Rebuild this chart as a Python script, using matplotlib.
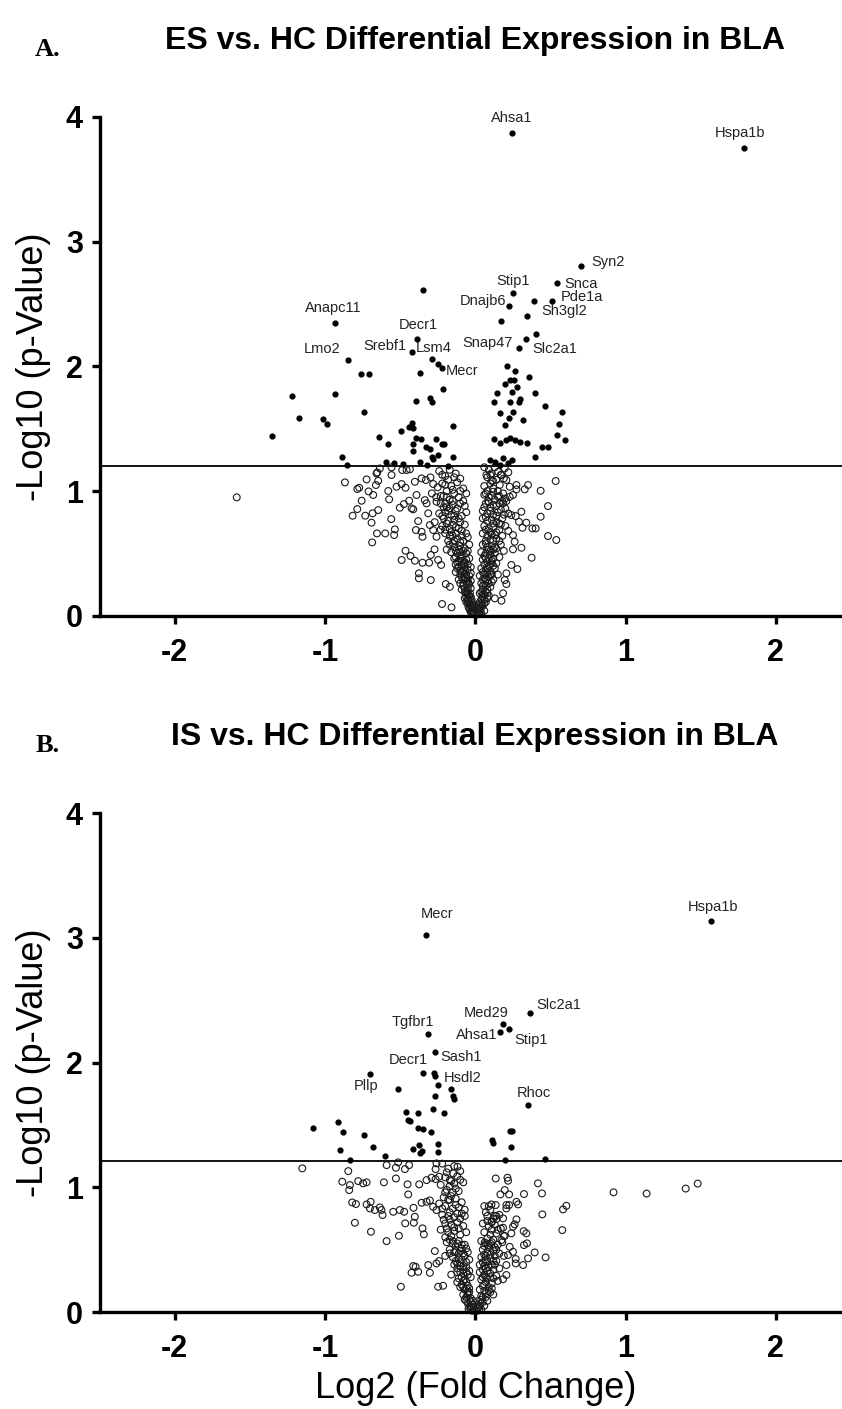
import numpy as np
import matplotlib
matplotlib.use('Agg')
import matplotlib.pyplot as plt

plt.rcParams['font.family'] = ['Liberation Sans', 'DejaVu Sans']

# ---------------- panel A : ES vs HC ----------------
a_lab_names = ['Ahsa1', 'Hspa1b', 'Syn2', 'Snca', 'Pde1a', 'Stip1', 'Dnajb6', 'Sh3gl2',
               'Anapc11', 'Lmo2', 'Decr1', 'Srebf1', 'Lsm4', 'Mecr', 'Snap47', 'Slc2a1']
a_lab_x = [0.243, 1.79, 0.705, 0.545, 0.510, 0.251, 0.223, 0.391,
           -0.934, -0.845, -0.390, -0.419, -0.287, -0.222, 0.289, 0.340]
a_lab_y = [3.87, 3.75, 2.80, 2.67, 2.525, 2.585, 2.48, 2.52,
           2.344, 2.05, 2.22, 2.114, 2.056, 1.985, 2.15, 2.215]

a_sig = [(0.343, 2.40), (0.168, 2.36), (-0.347, 2.61), (0.402, 2.258), (-0.245, 2.02),
         (-0.763, 1.935), (-0.708, 1.935), (-0.369, 1.943), (-1.221, 1.764), (-0.934, 1.777),
         (-0.214, 1.817), (-0.397, 1.723), (-0.302, 1.743), (-0.291, 1.715), (-0.743, 1.633),
         (-1.173, 1.582), (-1.015, 1.577), (-0.989, 1.534), (-1.354, 1.443), (-0.424, 1.547),
         (-0.442, 1.51), (-0.411, 1.507), (-0.495, 1.483), (-0.147, 1.521), (-0.639, 1.435),
         (-0.583, 1.374), (-0.395, 1.422), (-0.364, 1.414), (-0.413, 1.376), (-0.258, 1.414),
         (-0.223, 1.376), (-0.207, 1.374), (-0.413, 1.32), (-0.329, 1.35), (-0.298, 1.339),
         (-0.291, 1.275), (-0.280, 1.254), (-0.247, 1.286), (-0.147, 1.275), (-0.885, 1.272),
         (-0.852, 1.208), (-0.597, 1.234), (-0.541, 1.226), (-0.48, 1.214), (-0.369, 1.23),
         (-0.324, 1.208), (-0.181, 1.2),
         (0.214, 2.0), (0.267, 1.964), (0.357, 1.916), (0.229, 1.889), (0.258, 1.889),
         (0.201, 1.857), (0.280, 1.836), (0.145, 1.783), (0.245, 1.791), (0.397, 1.783),
         (0.296, 1.735), (0.289, 1.715), (0.123, 1.711), (0.229, 1.711), (0.466, 1.681),
         (0.163, 1.622), (0.251, 1.635), (0.575, 1.635), (0.225, 1.587), (0.318, 1.569),
         (0.559, 1.537), (0.201, 1.526), (0.544, 1.449), (0.595, 1.409), (0.123, 1.419),
         (0.163, 1.387), (0.207, 1.408), (0.229, 1.427), (0.262, 1.408), (0.296, 1.392),
         (0.347, 1.382), (0.444, 1.355), (0.484, 1.355), (0.395, 1.275), (0.096, 1.248),
         (0.13, 1.232), (0.183, 1.264), (0.216, 1.224), (0.243, 1.248), (0.163, 1.205)]

a_ns = [(-1.587, 0.949),
        (-0.867, 1.069), (-0.785, 1.016), (-0.772, 1.026), (-0.723, 1.093), (-0.71, 0.997),
        (-0.679, 0.968), (-0.657, 1.141), (-0.646, 1.082), (-0.661, 1.048), (-0.756, 0.922),
        (-0.785, 0.855), (-0.816, 0.802), (-0.732, 0.802), (-0.683, 0.821), (-0.646, 0.847),
        (-0.69, 0.746), (-0.654, 0.66), (-0.599, 0.66), (-0.686, 0.588), (-0.579, 1.0),
        (-0.573, 0.933), (-0.559, 0.775), (-0.535, 0.692), (-0.54, 0.647), (-0.524, 1.034),
        (-0.49, 1.056), (-0.464, 1.026), (-0.502, 0.866), (-0.475, 0.895), (-0.424, 0.861),
        (-0.44, 0.922), (-0.413, 0.853), (-0.391, 0.968), (-0.402, 1.074), (-0.357, 1.101),
        (-0.486, 1.168), (-0.457, 1.168), (-0.435, 1.174), (-0.635, 1.181), (-0.652, 1.149),
        (-0.557, 1.128), (-0.557, 1.19), (-0.38, 0.759), (-0.395, 0.687), (-0.357, 0.673),
        (-0.351, 0.633), (-0.464, 0.521), (-0.431, 0.479), (-0.402, 0.441), (-0.49, 0.447),
        (-0.375, 0.34), (-0.375, 0.3), (-0.296, 0.286), (-0.351, 0.425), (-0.307, 0.425),
        (-0.336, 0.927), (-0.324, 0.901), (-0.313, 0.821), (-0.329, 1.088), (-0.298, 1.109),
        (-0.28, 1.056), (-0.289, 0.981), (-0.258, 0.914), (-0.302, 0.727), (-0.28, 0.687),
        (-0.258, 0.633), (-0.271, 0.532), (-0.296, 0.487), (-0.247, 0.447), (-0.227, 0.407),
        (-0.221, 0.094), (-0.158, 0.067), (-0.196, 0.254), (-0.169, 0.232),
        (0.074, 1.128), (0.108, 1.141), (0.152, 1.154), (0.196, 1.181), (0.174, 1.128),
        (0.118, 1.082), (0.163, 1.048), (0.207, 1.088), (0.229, 1.034), (0.274, 1.048),
        (0.274, 1.013), (0.329, 1.013), (0.351, 1.048), (0.435, 1.002), (0.535, 1.08),
        (0.118, 0.994), (0.152, 0.954), (0.185, 0.981), (0.229, 0.954), (0.251, 0.968),
        (0.085, 0.919), (0.185, 0.901), (0.207, 0.919), (0.307, 0.834), (0.24, 0.807),
        (0.269, 0.799), (0.34, 0.746), (0.291, 0.753), (0.435, 0.794), (0.484, 0.879),
        (0.314, 0.705), (0.38, 0.7), (0.402, 0.7), (0.484, 0.639), (0.539, 0.607),
        (0.251, 0.647), (0.262, 0.593), (0.251, 0.532), (0.307, 0.545), (0.375, 0.465),
        (0.24, 0.407), (0.28, 0.374), (0.207, 0.34), (0.207, 0.254), (0.196, 0.286),
        (0.185, 0.18), (0.174, 0.12), (0.13, 0.139),
        # left arm of the V
        (-0.24, 1.16), (-0.2, 1.12), (-0.17, 1.17), (-0.13, 1.14), (-0.1, 1.1), (-0.22, 1.06),
        (-0.16, 1.04), (-0.12, 1.07), (-0.08, 1.02), (-0.19, 1.0), (-0.25, 1.03), (-0.14, 0.98),
        (-0.21, 0.96), (-0.17, 0.93), (-0.11, 0.95), (-0.08, 0.92), (-0.23, 0.9), (-0.19, 0.87),
        (-0.15, 0.89), (-0.12, 0.86), (-0.07, 0.88), (-0.2, 0.83), (-0.16, 0.81), (-0.13, 0.84),
        (-0.09, 0.8), (-0.24, 0.82), (-0.06, 0.83),
        (-0.21, 0.78), (-0.18, 0.76), (-0.14, 0.77), (-0.1, 0.75), (-0.07, 0.73), (-0.22, 0.72),
        (-0.17, 0.7), (-0.13, 0.71), (-0.09, 0.68), (-0.06, 0.66), (-0.2, 0.66), (-0.15, 0.64),
        (-0.12, 0.62), (-0.08, 0.6), (-0.18, 0.6), (-0.05, 0.63), (-0.23, 0.69),
        (-0.17, 0.57), (-0.14, 0.55), (-0.1, 0.56), (-0.07, 0.54), (-0.04, 0.57), (-0.16, 0.51),
        (-0.12, 0.5), (-0.09, 0.48), (-0.06, 0.5), (-0.14, 0.46), (-0.11, 0.44), (-0.07, 0.43),
        (-0.04, 0.46), (-0.13, 0.41), (-0.19, 0.53), (-0.09, 0.4),
        (-0.12, 0.38), (-0.08, 0.36), (-0.05, 0.37), (-0.1, 0.33), (-0.07, 0.31), (-0.04, 0.32),
        (-0.11, 0.29), (-0.06, 0.27), (-0.03, 0.28), (-0.08, 0.24), (-0.05, 0.22), (-0.09, 0.21),
        (-0.13, 0.35),
        (-0.06, 0.18), (-0.04, 0.16), (-0.07, 0.14), (-0.03, 0.12), (-0.05, 0.1), (-0.02, 0.08),
        (-0.04, 0.06), (-0.015, 0.04), (-0.03, 0.03), (-0.01, 0.015), (-0.02, 0.1), (-0.05, 0.13),
        (-0.15, 0.58), (-0.11, 0.53), (-0.08, 0.52), (-0.05, 0.52), (-0.13, 0.47), (-0.1, 0.46),
        (-0.06, 0.45), (-0.08, 0.42), (-0.05, 0.41), (-0.11, 0.39), (-0.07, 0.39), (-0.03, 0.39),
        (-0.09, 0.35), (-0.06, 0.33), (-0.03, 0.34), (-0.08, 0.29), (-0.05, 0.28), (-0.1, 0.26),
        (-0.04, 0.25), (-0.07, 0.22), (-0.03, 0.22), (-0.06, 0.2), (-0.05, 0.17), (-0.03, 0.15),
        (-0.06, 0.11), (-0.04, 0.09), (-0.025, 0.07), (-0.035, 0.045), (-0.02, 0.02), (-0.008, 0.03),
        (-0.19, 0.95), (-0.15, 0.92), (-0.1, 0.9), (-0.17, 0.86), (-0.14, 0.8), (-0.11, 0.78),
        (-0.19, 0.74), (-0.15, 0.73), (-0.11, 0.7), (-0.16, 0.67), (-0.13, 0.66), (-0.09, 0.64),
        (-0.14, 0.6), (-0.1, 0.59), (-0.27, 0.75), (-0.26, 0.95), (-0.18, 1.09), (-0.1, 1.0),
        (-0.06, 0.98), (-0.2, 0.9),
        (-0.13, 0.52), (-0.1, 0.51), (-0.12, 0.43), (-0.09, 0.44), (-0.1, 0.36), (-0.07, 0.34),
        (-0.09, 0.31), (-0.06, 0.3), (-0.08, 0.26), (-0.045, 0.26), (-0.07, 0.19), (-0.05, 0.19),
        (-0.035, 0.18), (-0.06, 0.15), (-0.045, 0.12), (-0.025, 0.13), (-0.03, 0.09),
        (-0.015, 0.06), (-0.045, 0.07), (-0.02, 0.035), (-0.17, 0.64), (-0.2, 0.69),
        (-0.22, 0.8), (-0.18, 0.84), (-0.21, 0.87), (-0.23, 0.96), (-0.15, 1.01), (-0.2, 1.05),
        (-0.14, 1.11), (-0.22, 1.13),
        # right arm of the V
        (0.06, 1.19), (0.09, 1.17), (0.13, 1.19), (0.08, 1.11), (0.1, 1.06), (0.14, 1.09),
        (0.06, 1.04), (0.19, 1.1), (0.22, 1.15), (0.12, 1.02),
        (0.06, 0.97), (0.09, 0.95), (0.13, 0.93), (0.16, 0.96), (0.2, 0.94), (0.07, 0.9),
        (0.1, 0.87), (0.14, 0.88), (0.17, 0.85), (0.05, 0.84), (0.08, 0.82), (0.12, 0.81),
        (0.15, 0.83), (0.2, 0.86), (0.22, 0.82),
        (0.05, 0.78), (0.08, 0.76), (0.11, 0.77), (0.14, 0.75), (0.18, 0.78), (0.06, 0.72),
        (0.09, 0.7), (0.12, 0.71), (0.16, 0.69), (0.2, 0.72), (0.05, 0.66), (0.08, 0.64),
        (0.11, 0.65), (0.14, 0.62), (0.18, 0.64), (0.07, 0.6), (0.1, 0.61), (0.22, 0.68),
        (0.05, 0.57), (0.08, 0.55), (0.11, 0.56), (0.14, 0.54), (0.17, 0.57), (0.04, 0.51),
        (0.07, 0.5), (0.1, 0.49), (0.13, 0.5), (0.16, 0.47), (0.05, 0.45), (0.08, 0.43),
        (0.11, 0.44), (0.14, 0.42), (0.19, 0.52),
        (0.04, 0.38), (0.07, 0.37), (0.1, 0.36), (0.13, 0.38), (0.03, 0.32), (0.06, 0.3),
        (0.09, 0.31), (0.12, 0.29), (0.15, 0.33), (0.04, 0.26), (0.07, 0.24), (0.1, 0.23),
        (0.05, 0.21),
        (0.03, 0.18), (0.06, 0.17), (0.09, 0.16), (0.04, 0.13), (0.07, 0.11), (0.02, 0.09),
        (0.05, 0.08), (0.03, 0.05), (0.015, 0.03), (0.04, 0.02), (0.01, 0.01), (0.08, 0.14),
        (0.07, 0.58), (0.09, 0.53), (0.12, 0.53), (0.06, 0.48), (0.09, 0.46), (0.12, 0.46),
        (0.06, 0.41), (0.09, 0.4), (0.12, 0.4), (0.05, 0.35), (0.08, 0.34), (0.11, 0.33),
        (0.05, 0.29), (0.08, 0.28), (0.11, 0.27), (0.06, 0.25), (0.08, 0.21), (0.04, 0.19),
        (0.07, 0.19), (0.05, 0.15), (0.03, 0.11), (0.06, 0.1), (0.02, 0.06), (0.04, 0.07),
        (0.025, 0.02), (0.06, 0.04),
        (0.07, 0.98), (0.11, 0.96), (0.09, 0.91), (0.12, 0.89), (0.16, 0.9), (0.06, 0.87),
        (0.1, 0.84), (0.14, 0.8), (0.07, 0.79), (0.12, 0.74), (0.16, 0.74), (0.07, 0.69),
        (0.1, 0.67), (0.14, 0.67), (0.12, 0.6), (0.16, 0.6), (0.15, 1.0), (0.1, 1.13),
        (0.1, 0.52), (0.13, 0.55), (0.07, 0.46), (0.11, 0.42), (0.08, 0.38), (0.06, 0.33),
        (0.1, 0.33), (0.07, 0.29), (0.09, 0.26), (0.05, 0.24), (0.08, 0.18), (0.05, 0.17),
        (0.06, 0.13), (0.04, 0.1), (0.025, 0.075), (0.035, 0.035), (0.015, 0.05), (0.13, 0.65),
        (0.17, 0.73), (0.19, 0.81), (0.18, 0.92), (0.11, 1.08), (0.17, 1.13), (0.08, 1.0)]

a_cut = 1.2

# ---------------- panel B : IS vs HC ----------------
b_lab_names = ['Mecr', 'Hspa1b', 'Slc2a1', 'Med29', 'Tgfbr1', 'Ahsa1', 'Stip1',
               'Sash1', 'Decr1', 'Hsdl2', 'Pllp', 'Rhoc']
b_lab_x = [-0.331, 1.571, 0.367, 0.185, -0.316, 0.163, 0.223,
           -0.269, -0.347, -0.265, -0.701, 0.351]
b_lab_y = [3.022, 3.134, 2.394, 2.306, 2.228, 2.245, 2.269,
           2.082, 1.913, 1.891, 1.905, 1.659]

b_sig = [(-0.274, 1.913), (-0.251, 1.819), (-0.517, 1.788), (-0.269, 1.734), (-0.163, 1.788),
         (-0.147, 1.732), (-0.141, 1.705), (-0.462, 1.606), (-0.382, 1.592), (-0.284, 1.625),
         (-0.207, 1.592), (-0.446, 1.539), (-0.435, 1.531), (-0.916, 1.525), (-1.078, 1.472),
         (-0.878, 1.44), (-0.741, 1.418), (-0.38, 1.472), (-0.351, 1.464), (-0.296, 1.445),
         (0.229, 1.451), (0.245, 1.451), (0.108, 1.376), (0.118, 1.358), (-0.9, 1.299),
         (-0.683, 1.325), (-0.373, 1.339), (-0.251, 1.344), (-0.247, 1.285), (-0.413, 1.31),
         (-0.369, 1.277), (-0.357, 1.29), (0.236, 1.325), (-0.599, 1.248), (-0.834, 1.222),
         (0.196, 1.222), (0.462, 1.23)]

b_ns = [(-1.151, 1.152), (-0.845, 1.13), (-0.885, 1.045), (-0.834, 1.018), (-0.839, 0.978),
        (-0.779, 1.05), (-0.746, 1.032), (-0.723, 1.04), (-0.608, 1.04), (-0.59, 1.178),
        (-0.528, 1.157), (-0.468, 1.146), (-0.44, 1.178), (-0.513, 1.2), (-0.528, 1.071),
        (-0.451, 1.024), (-0.446, 0.943), (-0.819, 0.879), (-0.794, 0.866), (-0.723, 0.863),
        (-0.696, 0.884), (-0.701, 0.831), (-0.668, 0.818), (-0.635, 0.839), (-0.624, 0.818),
        (-0.617, 0.778), (-0.801, 0.716), (-0.694, 0.644), (-0.59, 0.569), (-0.546, 0.804),
        (-0.502, 0.818), (-0.473, 0.804), (-0.466, 0.711), (-0.409, 0.716), (-0.402, 0.764),
        (-0.411, 0.836), (-0.508, 0.612), (-0.495, 0.203), (-0.351, 0.671), (-0.342, 0.623),
        (-0.373, 1.024), (-0.324, 1.058), (-0.291, 1.077), (-0.264, 1.066), (-0.24, 1.085),
        (-0.357, 0.876), (-0.324, 0.884), (-0.302, 0.895), (-0.28, 0.844), (-0.258, 0.818),
        (-0.413, 0.369), (-0.397, 0.363), (-0.424, 0.315), (-0.38, 0.323), (-0.313, 0.377),
        (-0.302, 0.315), (-0.269, 0.489), (-0.258, 0.39), (-0.24, 0.409), (-0.247, 0.203),
        (-0.214, 0.211), (-0.264, 1.146), (-0.258, 1.192), (-0.147, 1.112), (-0.118, 1.165),
        (-0.169, 1.058),
        (0.136, 1.071), (0.214, 1.077), (0.218, 1.053), (0.417, 1.032), (0.444, 0.951),
        (0.324, 0.946), (0.167, 0.943), (0.196, 0.978), (0.225, 0.943), (0.108, 0.863),
        (0.136, 0.858), (0.207, 0.858), (0.225, 0.858), (0.207, 0.831), (0.274, 0.884),
        (0.285, 0.863), (0.446, 0.783), (0.584, 0.823), (0.606, 0.852), (0.579, 0.657),
        (0.13, 0.772), (0.141, 0.746), (0.185, 0.751), (0.108, 0.724), (0.185, 0.676),
        (0.274, 0.743), (0.262, 0.703), (0.251, 0.684), (0.322, 0.649), (0.34, 0.631),
        (0.24, 0.631), (0.196, 0.61), (0.174, 0.577), (0.324, 0.537), (0.344, 0.551),
        (0.229, 0.523), (0.251, 0.483), (0.218, 0.457), (0.395, 0.478), (0.468, 0.438),
        (0.351, 0.43), (0.318, 0.377), (0.269, 0.425), (0.269, 0.39), (0.207, 0.377),
        (0.207, 0.297), (0.185, 0.263), (0.063, 0.559), (0.085, 0.537),
        (0.92, 0.96), (1.14, 0.95), (1.40, 0.99), (1.48, 1.03),
        # left arm of the V
        (-0.22, 1.19), (-0.18, 1.15), (-0.14, 1.17), (-0.1, 1.13), (-0.2, 1.08), (-0.16, 1.05),
        (-0.12, 1.09), (-0.08, 1.04), (-0.23, 1.02),
        (-0.19, 0.98), (-0.15, 0.96), (-0.11, 0.97), (-0.21, 0.92), (-0.17, 0.9), (-0.13, 0.91),
        (-0.09, 0.88), (-0.2, 0.85), (-0.15, 0.83), (-0.11, 0.84), (-0.07, 0.82), (-0.24, 0.87),
        (-0.22, 0.78), (-0.18, 0.77), (-0.14, 0.76), (-0.1, 0.75), (-0.07, 0.77), (-0.2, 0.71),
        (-0.16, 0.7), (-0.12, 0.72), (-0.08, 0.69), (-0.23, 0.66), (-0.18, 0.64), (-0.14, 0.65),
        (-0.1, 0.62), (-0.06, 0.64), (-0.2, 0.6), (-0.16, 0.61),
        (-0.19, 0.56), (-0.15, 0.55), (-0.11, 0.57), (-0.07, 0.54), (-0.17, 0.5), (-0.13, 0.49),
        (-0.09, 0.51), (-0.05, 0.48), (-0.2, 0.45), (-0.15, 0.44), (-0.11, 0.43), (-0.07, 0.45),
        (-0.13, 0.41), (-0.04, 0.42),
        (-0.14, 0.38), (-0.1, 0.37), (-0.06, 0.36), (-0.12, 0.32), (-0.08, 0.31), (-0.04, 0.33),
        (-0.11, 0.27), (-0.07, 0.26), (-0.03, 0.28), (-0.09, 0.22), (-0.05, 0.21), (-0.16, 0.3),
        (-0.07, 0.18), (-0.04, 0.16), (-0.06, 0.12), (-0.03, 0.11), (-0.05, 0.07), (-0.02, 0.06),
        (-0.03, 0.03), (-0.01, 0.02), (-0.08, 0.14), (-0.015, 0.09),
        (-0.17, 0.58), (-0.13, 0.53), (-0.09, 0.54), (-0.06, 0.51), (-0.11, 0.47), (-0.08, 0.47),
        (-0.17, 0.47), (-0.1, 0.4), (-0.06, 0.4), (-0.12, 0.35), (-0.08, 0.34), (-0.05, 0.3),
        (-0.09, 0.28), (-0.06, 0.24), (-0.12, 0.24), (-0.04, 0.19), (-0.08, 0.2), (-0.05, 0.14),
        (-0.03, 0.08), (-0.06, 0.09), (-0.04, 0.04), (-0.02, 0.01), (-0.19, 0.67), (-0.14, 0.68),
        (-0.11, 0.67), (-0.17, 0.74), (-0.12, 0.79), (-0.09, 0.79), (-0.17, 0.8), (-0.13, 0.86),
        (-0.16, 0.93), (-0.13, 0.99), (-0.17, 1.01), (-0.1, 1.06),
        (-0.15, 0.57), (-0.12, 0.55), (-0.1, 0.49), (-0.14, 0.48), (-0.09, 0.42), (-0.12, 0.39),
        (-0.08, 0.37), (-0.1, 0.32), (-0.06, 0.32), (-0.08, 0.25), (-0.1, 0.2), (-0.06, 0.19),
        (-0.05, 0.16), (-0.07, 0.1), (-0.04, 0.1), (-0.025, 0.045), (-0.045, 0.025),
        (-0.21, 0.74), (-0.22, 0.83), (-0.18, 0.9), (-0.2, 0.96), (-0.14, 1.03), (-0.19, 1.12),
        # right arm of the V
        (0.06, 0.85), (0.1, 0.82), (0.08, 0.77), (0.12, 0.75), (0.16, 0.78), (0.05, 0.71),
        (0.09, 0.69), (0.13, 0.7), (0.17, 0.67), (0.06, 0.64), (0.1, 0.62), (0.14, 0.63),
        (0.19, 0.61),
        (0.04, 0.57), (0.07, 0.55), (0.11, 0.56), (0.15, 0.54), (0.18, 0.56), (0.05, 0.5),
        (0.08, 0.48), (0.12, 0.49), (0.16, 0.47), (0.04, 0.44), (0.07, 0.42), (0.1, 0.43),
        (0.14, 0.41), (0.19, 0.45),
        (0.03, 0.38), (0.06, 0.37), (0.09, 0.36), (0.13, 0.38), (0.16, 0.35), (0.03, 0.32),
        (0.06, 0.3), (0.1, 0.31), (0.14, 0.29), (0.04, 0.26), (0.07, 0.24), (0.11, 0.23),
        (0.15, 0.25), (0.05, 0.21),
        (0.03, 0.18), (0.06, 0.17), (0.1, 0.16), (0.04, 0.13), (0.07, 0.12), (0.02, 0.09),
        (0.05, 0.08), (0.03, 0.05), (0.015, 0.03), (0.04, 0.02), (0.01, 0.01), (0.12, 0.14),
        (0.08, 0.59), (0.12, 0.58), (0.06, 0.53), (0.09, 0.52), (0.13, 0.52), (0.06, 0.46),
        (0.1, 0.46), (0.13, 0.45), (0.05, 0.4), (0.08, 0.4), (0.12, 0.41), (0.05, 0.34),
        (0.08, 0.33), (0.12, 0.34), (0.05, 0.28), (0.08, 0.27), (0.12, 0.27), (0.09, 0.2),
        (0.07, 0.15), (0.04, 0.1), (0.06, 0.05), (0.02, 0.04), (0.11, 0.19), (0.08, 0.73),
        (0.11, 0.66), (0.07, 0.8),
        (0.1, 0.55), (0.14, 0.5), (0.07, 0.45), (0.11, 0.38), (0.07, 0.35), (0.1, 0.28),
        (0.07, 0.28), (0.06, 0.22), (0.09, 0.17), (0.05, 0.12), (0.08, 0.09), (0.035, 0.07),
        (0.025, 0.015), (0.15, 0.66), (0.11, 0.72), (0.14, 0.77), (0.09, 0.85)]

b_cut = 1.21

x_ticks = [-2, -1, 0, 1, 2]
y_ticks = [0, 1, 2, 3, 4]

# label placement (offset in points, horizontal alignment)
a_lab_pos = {'Ahsa1': (0, 11, 'center'), 'Hspa1b': (-3, 11, 'center'),
             'Syn2': (7, 3, 'left'), 'Snca': (5, -1, 'left'), 'Pde1a': (6, 3, 'left'),
             'Stip1': (0, 9, 'center'), 'Dnajb6': (-2, 4, 'right'), 'Sh3gl2': (5, -7, 'left'),
             'Anapc11': (-1, 11, 'center'), 'Lmo2': (-6, 8, 'right'), 'Decr1': (1, 10, 'center'),
             'Srebf1': (-4, 4, 'right'), 'Lsm4': (1, 8, 'center'), 'Mecr': (3, -2, 'left'),
             'Snap47': (-4, 3, 'right'), 'Slc2a1': (4, -7, 'left')}
b_lab_pos = {'Mecr': (8, 15, 'center'), 'Hspa1b': (1, 10, 'center'),
             'Slc2a1': (4, 6, 'left'), 'Med29': (-12, 8, 'center'),
             'Tgfbr1': (-11, 9, 'center'), 'Ahsa1': (-2, -2, 'right'), 'Stip1': (4, -8, 'left'),
             'Sash1': (4, -3, 'left'), 'Decr1': (-11, 10, 'center'), 'Hsdl2': (6, -1, 'left'),
             'Pllp': (-3, -8, 'center'), 'Rhoc': (4, 9, 'center')}


def volcano(ax, names, lx, ly, sig, ns, cut, lab_pos):
    ns = np.array(ns)
    sig = np.array(sig)
    ax.scatter(ns[:, 0], ns[:, 1], s=24, facecolors='none', edgecolors='#1a1a1a',
               linewidths=0.8, zorder=2, clip_on=False)
    ax.scatter(sig[:, 0], sig[:, 1], s=12, color='black', zorder=3)
    ax.scatter(lx, ly, s=12, color='black', zorder=3)
    for n, x, y in zip(names, lx, ly):
        dx, dy, ha = lab_pos[n]
        ax.annotate(n, (x, y), xytext=(dx, dy), textcoords='offset points',
                    ha=ha, va='center', fontsize=10.5, color='#222222')
    ax.axhline(cut, color='black', lw=1.3, zorder=1)
    ax.set_xlim(-2.5, 2.44)
    ax.set_ylim(0, 4)
    ax.set_xticks(x_ticks)
    ax.set_yticks(y_ticks)
    ax.set_xticklabels([str(t) for t in x_ticks], fontsize=22, fontweight='bold')
    ax.set_yticklabels([str(t) for t in y_ticks], fontsize=22, fontweight='bold')
    for s in ['top', 'right']:
        ax.spines[s].set_visible(False)
    for s in ['left', 'bottom']:
        ax.spines[s].set_linewidth(2.4)
    ax.tick_params(width=2.4, length=6)
    ax.tick_params(axis='x', pad=10)
    ax.tick_params(axis='y', pad=6)
    ax.set_ylabel('-Log10 (p-Value)', fontsize=26)
    ax.yaxis.set_label_coords(-0.066, 0.5)


fig = plt.figure(figsize=(8.42, 14.09), dpi=100)
ax1 = fig.add_axes([0.1182, 0.5630, 0.8818, 0.3541])
ax2 = fig.add_axes([0.1182, 0.0688, 0.8818, 0.3541])

volcano(ax1, a_lab_names, a_lab_x, a_lab_y, a_sig, a_ns, a_cut, a_lab_pos)
volcano(ax2, b_lab_names, b_lab_x, b_lab_y, b_sig, b_ns, b_cut, b_lab_pos)

ax2.set_xlabel('Log2 (Fold Change)', fontsize=26)
ax2.xaxis.set_label_coords(0.507, -0.118)

fig.text(475 / 842, 1 - 41 / 1409, 'ES vs. HC Differential Expression in BLA',
         ha='center', va='center', fontsize=23, fontweight='bold')
fig.text(475 / 842, 1 - 737 / 1409, 'IS vs. HC Differential Expression in BLA',
         ha='center', va='center', fontsize=23, fontweight='bold')
fig.text(48 / 842, 1 - 49 / 1409, 'A.', ha='center', va='center', fontsize=19,
         fontweight='bold', family='Liberation Serif')
fig.text(48 / 842, 1 - 745 / 1409, 'B.', ha='center', va='center', fontsize=19,
         fontweight='bold', family='Liberation Serif')

fig.savefig('out.png', dpi=100)
